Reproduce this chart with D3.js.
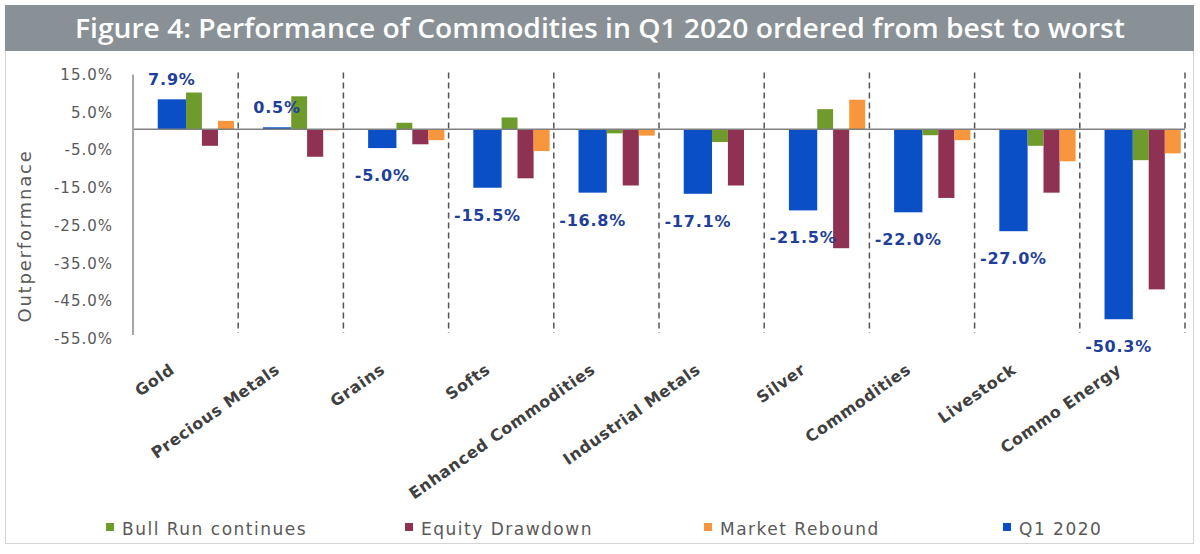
<!DOCTYPE html>
<html>
<head>
<meta charset="utf-8">
<script src="https://cdn.jsdelivr.net/npm/d3@7"></script>
<style>
  body { margin: 0; background: #fff; }
  svg { display: block; }
</style>
</head>
<body>
<svg id="chart"></svg>
<script>
const width = 1200;
const height = 554;

// Data (percent)
const categories = ["Gold", "Precious Metals", "Grains", "Softs", "Enhanced Commodities",
  "Industrial Metals", "Silver", "Commodities", "Livestock", "Commo Energy"];
const q1_2020 = [7.9, 0.5, -5.0, -15.5, -16.8, -17.1, -21.5, -22.0, -27.0, -50.3];
const bullRun = [9.7, 8.7, 1.7, 3.1, -1.1, -3.4, 5.3, -1.6, -4.4, -8.2];
const equityDrawdown = [-4.4, -7.3, -4.0, -13.0, -14.9, -14.9, -31.5, -18.2, -16.8, -42.4];
const marketRebound = [2.2, -0.3, -2.9, -5.8, -1.7, -0.2, 7.8, -2.9, -8.5, -6.4];
const yTicks = [15, 5, -5, -15, -25, -35, -45, -55];

const legendNames = ["Bull Run continues", "Equity Drawdown", "Market Rebound", "Q1 2020"];
const colors = {
  "Bull Run continues": "#6f9a2c",
  "Equity Drawdown": "#8e3152",
  "Market Rebound": "#f7963d",
  "Q1 2020": "#0b4fc6"
};

const font = "'DejaVu Sans', sans-serif";

const svg = d3.select("#chart")
    .attr("width", width)
    .attr("height", height);

// frame + title band
svg.append("rect")
    .attr("x", 5.5).attr("y", 5.5)
    .attr("width", 1188).attr("height", 538)
    .attr("fill", "#fff")
    .attr("stroke", "#d4d4d4");

svg.append("rect")
    .attr("x", 5).attr("y", 5)
    .attr("width", 1189).attr("height", 46)
    .attr("fill", "#899196");

svg.append("text")
    .attr("x", 600).attr("y", 38)
    .attr("text-anchor", "middle")
    .attr("fill", "#fff")
    .attr("font-family", "'Open Sans', sans-serif")
    .attr("font-weight", 600)
    .attr("font-size", 27)
    .attr("textLength", 1050)
    .attr("lengthAdjust", "spacingAndGlyphs")
    .text("Figure 4: Performance of Commodities in Q1 2020 ordered from best to worst");

const x = d3.scaleBand()
    .domain(categories)
    .range([133, 1185])
    .padding(0);

const y = d3.scaleLinear()
    .domain([-55, 15])
    .range([337, 72.5]);

// sub-positions inside each category band (fractions of band width)
const slots = [
  { name: "Q1 2020", values: q1_2020, x0: 0.235, x1: 0.504 },
  { name: "Bull Run continues", values: bullRun, x0: 0.504, x1: 0.655 },
  { name: "Equity Drawdown", values: equityDrawdown, x0: 0.655, x1: 0.808 },
  { name: "Market Rebound", values: marketRebound, x0: 0.808, x1: 0.96 }
];

// dashed category separators
svg.append("g")
    .selectAll("line")
    .data(categories)
    .join("line")
    .attr("x1", d => x(d) + x.bandwidth())
    .attr("x2", d => x(d) + x.bandwidth())
    .attr("y1", y(15))
    .attr("y2", y(-55) - 4)
    .attr("stroke", "#555")
    .attr("stroke-width", 1.5)
    .attr("stroke-dasharray", "6,4");

// bars
const bw = x.bandwidth();
slots.forEach(s => {
  svg.append("g")
      .attr("fill", colors[s.name])
      .selectAll("rect")
      .data(categories.map((c, i) => ({ c, v: s.values[i] })))
      .join("rect")
      .attr("x", d => x(d.c) + s.x0 * bw)
      .attr("width", (s.x1 - s.x0) * bw)
      .attr("y", d => y(Math.max(0, d.v)))
      .attr("height", d => Math.abs(y(d.v) - y(0)));
});

// zero line
svg.append("line")
    .attr("x1", 133).attr("x2", 1185)
    .attr("y1", y(0)).attr("y2", y(0))
    .attr("stroke", "#808080")
    .attr("stroke-width", 1.5);

// y axis
const yAxis = svg.append("g")
    .attr("transform", "translate(133,0)")
    .call(d3.axisLeft(y)
        .tickValues(yTicks)
        .tickSize(0)
        .tickPadding(20)
        .tickFormat(d => d.toFixed(1) + "%"));
yAxis.select(".domain")
    .attr("d", `M0,${y(15) + 2}V${y(-55) - 2}`)
    .attr("stroke", "#a6a6a6")
    .attr("stroke-width", 2);
yAxis.selectAll("text")
    .attr("font-family", font)
    .attr("font-size", 15)
    .attr("fill", "#595959")
    .attr("letter-spacing", 1)
    .attr("dy", "0.45em");

svg.append("text")
    .attr("transform", "translate(31,236) rotate(-90)")
    .attr("text-anchor", "middle")
    .attr("font-family", font)
    .attr("font-size", 18)
    .attr("fill", "#595959")
    .attr("letter-spacing", 1.8)
    .text("Outperformnace");

// Q1 2020 data labels
const blue = slots[0];
svg.append("g")
    .selectAll("text")
    .data(categories.map((c, i) => ({ c, v: q1_2020[i] })))
    .join("text")
    .attr("x", d => x(d.c) + (blue.x0 + blue.x1) / 2 * bw)
    .attr("y", d => d.v >= 0 ? y(d.v) - 14 : y(d.v) + 33)
    .attr("text-anchor", "middle")
    .attr("font-family", font)
    .attr("font-weight", "bold")
    .attr("font-size", 16)
    .attr("letter-spacing", 0.8)
    .attr("fill", "#1f3f9a")
    .text(d => d.v.toFixed(1) + "%");

// category labels, rotated
svg.append("g")
    .selectAll("text")
    .data(categories)
    .join("text")
    .attr("transform", d => `translate(${x(d) + bw / 2 - 10},372) rotate(-35)`)
    .attr("text-anchor", "end")
    .attr("font-family", font)
    .attr("font-weight", "bold")
    .attr("font-size", 16)
    .attr("letter-spacing", 0.6)
    .attr("fill", "#404040")
    .text(d => d);

// legend
const legend = svg.append("g")
    .selectAll("g")
    .data(legendNames)
    .join("g")
    .attr("transform", (d, i) => `translate(${106 + i * 299},523)`);
legend.append("rect")
    .attr("width", 8).attr("height", 8)
    .attr("fill", d => colors[d]);
legend.append("text")
    .attr("x", 16).attr("y", 12)
    .attr("font-family", font)
    .attr("font-size", 17)
    .attr("fill", "#595959")
    .attr("letter-spacing", 1.5)
    .text(d => d);
</script>
</body>
</html>
